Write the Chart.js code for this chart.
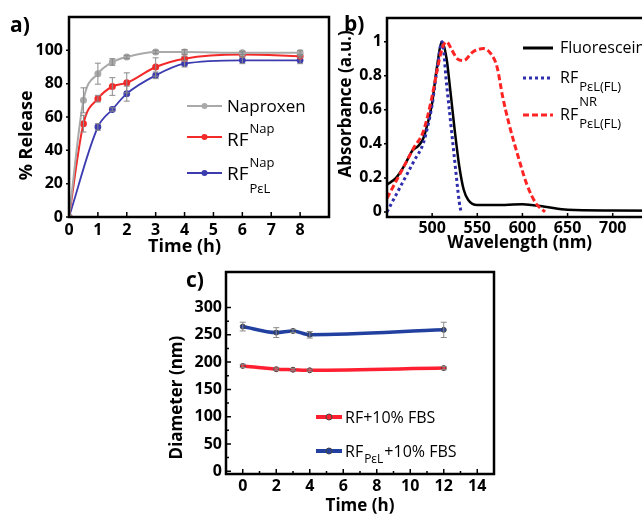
<!DOCTYPE html>
<html>
<head>
<meta charset="utf-8">
<title>Release, absorbance and diameter</title>
<script src="https://cdn.jsdelivr.net/npm/chart.js@4.4.1/dist/chart.umd.min.js"></script>
<style>
    html, body { margin: 0; padding: 0; background: #fff; overflow: hidden; }
    body { width: 642px; height: 514px; position: relative; }
    canvas { position: absolute; }
    .tag { position: absolute; font: bold 21px "Open Sans", sans-serif; line-height: 21px; }
</style>
</head>
<body>
<canvas id="releaseChart" width="335" height="260" style="left:0;top:0"></canvas>
<canvas id="absChart" width="370" height="260" style="left:335px;top:0"></canvas>
<canvas id="sizeChart" width="340" height="254" style="left:160px;top:260px"></canvas>
<div class="tag" style="left:10px;top:14px">a)</div>
<div class="tag" style="left:344px;top:13px">b)</div>
<div class="tag" style="left:186px;top:269px">c)</div>
<script>

// a) % release vs time
const timeNap = [0, 0.5, 1, 1.5, 2, 3, 4, 6, 8];
const relNap = [0, 70, 86, 93, 96, 99, 99, 98.5, 98.5];
const errNap = [0, 7.5, 6.3, 2, 1, 1, 1.5, 1, 1.5];
const timeRF = [0, 0.5, 1, 1.5, 2, 3, 4, 6, 8];
const relRF = [0, 56, 71, 78.3, 80.5, 90, 95, 97.5, 96.5];
const errRF = [0, 5, 2, 5.3, 6, 5.5, 1.5, 1.5, 1];
const timePel = [0, 1, 1.5, 2, 3, 4, 6, 8];
const relPel = [0, 54, 64.5, 74, 85, 92, 94, 94];
const errPel = [0, 2, 1, 4.5, 2, 2, 2, 2];

// b) absorbance spectra
const wlFluo = [450, 460, 470, 478, 485, 490, 495, 500, 505, 511, 516, 520, 525, 530, 535, 540, 550, 570, 600, 625, 650, 700, 800];
const absFluo = [0.16, 0.2, 0.28, 0.36, 0.39, 0.43, 0.52, 0.64, 0.84, 1.0, 0.9, 0.72, 0.48, 0.27, 0.13, 0.07, 0.04, 0.04, 0.045, 0.03, 0.012, 0.008, 0.005];
const wlPelFL = [450, 460, 470, 480, 490, 495, 500, 505, 511, 516, 520, 525, 530, 532];
const absPelFL = [0, 0.1, 0.2, 0.3, 0.4, 0.5, 0.63, 0.82, 1.0, 0.75, 0.55, 0.3, 0.06, 0];
const wlNR = [450, 460, 470, 480, 490, 500, 505, 511, 516, 522, 528, 535, 545, 557, 565, 572, 578, 585, 595, 605, 615, 625];
const absNR = [0.08, 0.18, 0.28, 0.38, 0.47, 0.68, 0.82, 0.96, 1.0, 0.95, 0.9, 0.89, 0.94, 0.96, 0.93, 0.85, 0.68, 0.52, 0.33, 0.16, 0.05, 0];

// c) diameter in 10% FBS
const timeSize = [0, 2, 3, 4, 12];
const diaRF = [193, 187, 186, 185, 189];
const errDiaRF = [3, 2, 2, 2, 3];
const diaPel = [265, 254, 257, 250, 259];
const errDiaPel = [8, 9, 3, 6, 14];

// tick labels
const ticksAx = [0, 1, 2, 3, 4, 5, 6, 7, 8];
const ticksAy = [0, 20, 40, 60, 80, 100];
const ticksBx = [500, 550, 600, 650, 700, 750, 800];
const ticksBy = [0, 0.2, 0.4, 0.6, 0.8, 1];
const ticksCx = [0, 2, 4, 6, 8, 10, 12, 14];
const ticksCy = [0, 50, 100, 150, 200, 250, 300];

// legend entries (strings = normal text, objects = stacked sup/sub)
const legendA = [
    { color: '#a9a9a9', y: 106, base: 112, size: 17, text: ['Naproxen'] },
    { color: '#f22a2a', y: 137, base: 146, size: 19, raise: 13, text: ['RF', { sup: 'Nap' }] },
    { color: '#3c3cb0', y: 173, base: 180, size: 19, raise: 13, lower: 13, text: ['RF', { sup: 'Nap', sub: 'PεL' }] }
];
const legendB = [
    { color: '#000', y: 48, base: 53, dash: [], text: ['Fluorescein'] },
    { color: '#2f2fae', y: 78, base: 83, lower: 8, dash: [3, 3], text: ['RF', { sub: 'PεL(FL)' }] },
    { color: '#ff2424', y: 115, base: 120, raise: 14, lower: 8, dash: [6, 3], text: ['RF', { sup: 'NR', sub: 'PεL(FL)' }] }
];
const legendC = [
    { color: '#ff1f30', y: 157, base: 163, text: ['RF+10% FBS'] },
    { color: '#21409f', y: 191, base: 197, lower: 6, text: ['RF', { sub: 'PεL' }, '+10% FBS'] }
];

Chart.defaults.font.family = '"Open Sans", sans-serif';
Chart.defaults.color = '#000';
Chart.defaults.animation = false;
Chart.defaults.events = [];

function pts(xs, ys) {
    return xs.map((x, i) => ({ x: x, y: ys[i] }));
}

function axis(min, max, ticks, size, pad, fmt) {
    return {
        type: 'linear',
        min: min,
        max: max,
        grid: { display: false, drawTicks: false },
        border: { display: false },
        ticks: {
            font: { size: 16, weight: 'bold' },
            color: '#000',
            padding: pad,
            maxRotation: 0,
            autoSkip: false,
            callback: fmt || (v => String(v))
        },
        afterBuildTicks: s => { s.ticks = ticks.map(v => ({ value: v })); },
        afterFit: s => {
            if (s.isHorizontal()) s.height = size; else s.width = size;
            s.paddingLeft = s.paddingRight = s.paddingTop = s.paddingBottom = 0;
        }
    };
}

// box round the plot and the little tick marks
function frame(o) {
    return {
        id: 'frame',
        afterDraw(chart) {
            const ctx = chart.ctx, a = chart.chartArea;
            const xs = chart.scales.x, ys = chart.scales.y;
            ctx.save();
            ctx.strokeStyle = '#000';
            ctx.lineWidth = 2.5;
            ctx.strokeRect(a.left, a.top, a.right - a.left, a.bottom - a.top);
            ctx.lineWidth = 1.5;
            ctx.beginPath();
            const xv = xs.ticks.map(t => t.value), yv = ys.ticks.map(t => t.value);
            xv.forEach((v, i) => {
                const px = xs.getPixelForValue(v);
                ctx.moveTo(px, a.bottom); ctx.lineTo(px, a.bottom + o.xLen);
                if (o.minor && i < xv.length - 1) {
                    const mx = xs.getPixelForValue((v + xv[i + 1]) / 2);
                    ctx.moveTo(mx, a.bottom); ctx.lineTo(mx, a.bottom + o.xLen * 0.6);
                }
            });
            yv.forEach((v, i) => {
                const py = ys.getPixelForValue(v);
                ctx.moveTo(a.left, py); ctx.lineTo(a.left + o.yLen, py);
                if (o.minor && i < yv.length - 1) {
                    const my = ys.getPixelForValue((v + yv[i + 1]) / 2);
                    ctx.moveTo(a.left, my); ctx.lineTo(a.left + o.yLen * 0.6, my);
                }
            });
            ctx.stroke();
            ctx.restore();
        }
    };
}

function axisTitles(o) {
    return {
        id: 'axisTitles',
        afterDraw(chart) {
            const ctx = chart.ctx, s = chart.scales;
            ctx.save();
            ctx.font = o.font;
            ctx.fillStyle = '#000';
            ctx.textAlign = 'center';
            ctx.textBaseline = 'middle';
            ctx.fillText(o.x.text, s.x.getPixelForValue(o.x.at), o.x.pos);
            ctx.translate(o.y.pos, s.y.getPixelForValue(o.y.at));
            ctx.rotate(-Math.PI / 2);
            ctx.fillText(o.y.text, 0, 0);
            ctx.restore();
        }
    };
}

const errorBars = {
    id: 'errorBars',
    afterDatasetsDraw(chart) {
        const ctx = chart.ctx, ys = chart.scales.y;
        ctx.save();
        ctx.strokeStyle = '#8a8a8a';
        ctx.lineWidth = 1;
        chart.data.datasets.forEach((ds, di) => {
            if (!ds.errs) return;
            chart.getDatasetMeta(di).data.forEach((el, i) => {
                const e = ds.errs[i];
                if (!e) return;
                const v = ds.data[i].y;
                const top = ys.getPixelForValue(v + e), bot = ys.getPixelForValue(v - e);
                ctx.beginPath();
                ctx.moveTo(el.x, top); ctx.lineTo(el.x, bot);
                ctx.moveTo(el.x - 3, top); ctx.lineTo(el.x + 3, top);
                ctx.moveTo(el.x - 3, bot); ctx.lineTo(el.x + 3, bot);
                ctx.stroke();
            });
        });
        ctx.restore();
    }
};

function richLegend(items, o) {
    return {
        id: 'richLegend',
        afterDraw(chart) {
            const ctx = chart.ctx;
            items.forEach(it => {
                ctx.save();
                ctx.strokeStyle = it.color;
                ctx.lineWidth = o.width;
                ctx.setLineDash(it.dash || []);
                ctx.beginPath();
                ctx.moveTo(o.x0, it.y);
                ctx.lineTo(o.x1, it.y);
                ctx.stroke();
                ctx.setLineDash([]);
                if (o.dot) {
                    ctx.beginPath();
                    ctx.arc((o.x0 + o.x1) / 2, it.y, o.dot, 0, Math.PI * 2);
                    ctx.fillStyle = it.color;
                    ctx.fill();
                    if (o.dotBorder) { ctx.strokeStyle = o.dotBorder; ctx.lineWidth = 1; ctx.stroke(); }
                }
                ctx.fillStyle = '#000';
                ctx.textBaseline = 'alphabetic';
                let x = o.tx;
                const size = it.size || o.size;
                it.text.forEach(p => {
                    if (typeof p === 'string') {
                        ctx.font = size + 'px "Open Sans"';
                        ctx.fillText(p, x, it.base);
                        x += ctx.measureText(p).width;
                    } else {
                        ctx.font = o.small + 'px "Open Sans"';
                        let w = 0;
                        if (p.sup) { ctx.fillText(p.sup, x + 1, it.base - (it.raise || 12)); w = Math.max(w, ctx.measureText(p.sup).width); }
                        if (p.sub) { ctx.fillText(p.sub, x + 1, it.base + (it.lower || 8)); w = Math.max(w, ctx.measureText(p.sub).width); }
                        x += w + 2;
                    }
                });
                ctx.restore();
            });
        }
    };
}

// ---------- a)
new Chart(document.getElementById('releaseChart'), {
    type: 'line',
    data: {
        datasets: [
            { data: pts(timeNap, relNap), errs: errNap, borderColor: '#a9a9a9', backgroundColor: '#a9a9a9', borderWidth: 2, pointRadius: 2.5 },
            { data: pts(timeRF, relRF), errs: errRF, borderColor: '#f22a2a', backgroundColor: '#f22a2a', borderWidth: 2, pointRadius: 2.5 },
            { data: pts(timePel, relPel), errs: errPel, borderColor: '#3c3cb0', backgroundColor: '#3c3cb0', borderWidth: 1.8, pointRadius: 2.5 }
        ]
    },
    options: {
        responsive: false,
        cubicInterpolationMode: 'monotone',
        layout: { padding: { top: 17, right: 5, left: 0, bottom: 0 } },
        scales: {
            x: axis(0, 9, ticksAx, 43, 4),
            y: axis(0, 120, ticksAy, 69, 6)
        },
        plugins: { legend: { display: false }, tooltip: { enabled: false } }
    },
    plugins: [
        frame({ xLen: -5, yLen: -3 }),
        errorBars,
        axisTitles({ font: 'bold 18px "Open Sans"', x: { text: 'Time (h)', at: 4, pos: 247 }, y: { text: '% Release', at: 49, pos: 27 } }),
        richLegend(legendA, { x0: 187, x1: 222, tx: 227, width: 2, dot: 3, size: 17, small: 13 })
    ]
});

// ---------- b)
new Chart(document.getElementById('absChart'), {
    type: 'line',
    data: {
        datasets: [
            { data: pts(wlNR, absNR), borderColor: '#ff2424', borderWidth: 3, borderDash: [6, 3], pointRadius: 0 },
            { data: pts(wlPelFL, absPelFL), borderColor: '#2f2fae', borderWidth: 3, borderDash: [3, 3], pointRadius: 0 },
            { data: pts(wlFluo, absFluo), borderColor: '#000', borderWidth: 2.5, pointRadius: 0 }
        ]
    },
    options: {
        responsive: false,
        cubicInterpolationMode: 'monotone',
        layout: { padding: { top: 18, right: 2, left: 0, bottom: 0 } },
        scales: {
            x: axis(450, 800, ticksBx, 43, 2),
            y: axis(-0.03, 1.14, ticksBy, 52, 5, v => String(+v.toFixed(1)))
        },
        plugins: { legend: { display: false }, tooltip: { enabled: false } }
    },
    plugins: [
        frame({ xLen: -4, yLen: -3 }),
        axisTitles({ font: 'bold 17px "Open Sans"', x: { text: 'Wavelength (nm)', at: 597, pos: 243 }, y: { text: 'Absorbance (a.u.)', at: 0.635, pos: 11 } }),
        richLegend(legendB, { x0: 188, x1: 218, tx: 225, width: 3, size: 16, small: 13 })
    ]
});

// ---------- c)
new Chart(document.getElementById('sizeChart'), {
    type: 'line',
    data: {
        datasets: [
            { data: pts(timeSize, diaRF), errs: errDiaRF, borderColor: '#ff1f30', borderWidth: 3.5, pointRadius: 2.5,
              pointBackgroundColor: '#ff1f30', pointBorderColor: '#444', pointBorderWidth: 1 },
            { data: pts(timeSize, diaPel), errs: errDiaPel, borderColor: '#21409f', borderWidth: 3.5, pointRadius: 2.5,
              pointBackgroundColor: '#21409f', pointBorderColor: '#444', pointBorderWidth: 1 }
        ]
    },
    options: {
        responsive: false,
        cubicInterpolationMode: 'monotone',
        layout: { padding: { top: 12, right: 6, left: 0, bottom: 0 } },
        scales: {
            x: axis(-1, 15, ticksCx, 40, 3),
            y: axis(-5, 365, ticksCy, 66, 4)
        },
        plugins: { legend: { display: false }, tooltip: { enabled: false } }
    },
    plugins: [
        frame({ xLen: -5, yLen: 5, minor: true }),
        errorBars,
        axisTitles({ font: 'bold 17px "Open Sans"', x: { text: 'Time (h)', at: 7, pos: 246 }, y: { text: 'Diameter (nm)', at: 135, pos: 17 } }),
        richLegend(legendC, { x0: 156, x1: 182, tx: 185, width: 4, dot: 3, dotBorder: '#444', size: 16, small: 12 })
    ]
});
</script>
</body>
</html>
